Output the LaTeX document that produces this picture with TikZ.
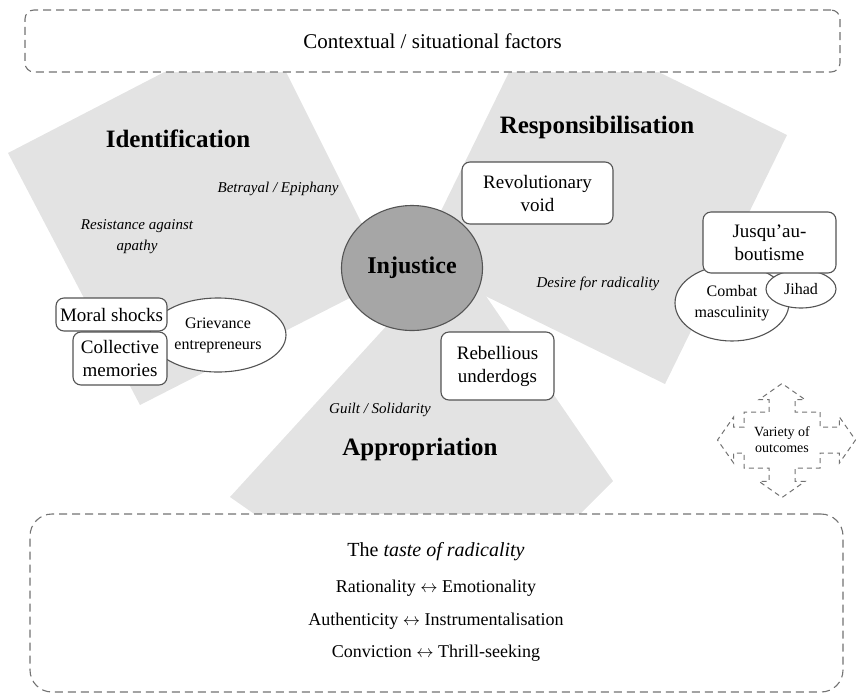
\documentclass[tikz,border=0pt]{standalone}
\usepackage{fontspec}
\setmainfont{Liberation Serif}
\usetikzlibrary{shapes.geometric,shapes.arrows}
\definecolor{sectorgray}{gray}{0.89}
\definecolor{coregray}{gray}{0.65}
\definecolor{linegray}{gray}{0.33}
\definecolor{dashgray}{gray}{0.45}
\tikzset{
	sector/.style={fill=sectorgray}, % grey squares behind the labels
	dashframe/.style={draw=dashgray, dash pattern=on 8pt off 5pt, line width=1.1pt, fill=white, rounded corners=#1},
	theme/.style={font=\fontsize{25}{30}\selectfont\bfseries},
	cue/.style={font=\fontsize{15}{21}\selectfont\itshape, align=center},
	pole/.style={font=\fontsize{18}{22}\selectfont},
	tagbox/.style={draw=linegray, line width=1.1pt, fill=white, rounded corners=8pt, align=center, inner sep=0pt, font=\fontsize{19}{23}\selectfont},
	tagoval/.style={ellipse, draw=linegray, line width=1.1pt, fill=white, align=center, inner sep=0pt, font=\fontsize{16}{21}\selectfont},
}

\begin{document}
\begin{tikzpicture}[x=1pt,y=-1pt]
	\useasboundingbox (0,0) rectangle (856,694);
	% Shade the three grey squares
	\fill[sector] (261,22) -- (8,153) -- (140,405) -- (389,278) -- cycle;
	\fill[sector] (538,13) -- (787,135) -- (665,384) -- (416,262) -- cycle;
	\fill[sector] (455,251) -- (613,481) -- (446,648) -- (230,497) -- cycle;
	
	% dashed frames top and bottom
	\node[dashframe=9pt, minimum width=815pt, minimum height=62pt, font=\fontsize{21}{25}\selectfont] (context) at (432.5,41) {Contextual / situational factors};
	\node[dashframe=22pt, minimum width=813pt, minimum height=178pt] (tastebox) at (436.5,603) {};
	\node[font=\fontsize{20}{24}\selectfont] (taste) at (436,552) {The \textit{taste of radicality}};
	\node[pole] (ratio) at (436,588) {Rationality $\leftrightarrow$ Emotionality};
	\node[pole] (authent) at (436,621) {Authenticity $\leftrightarrow$ Instrumentalisation};
	\node[pole] (convict) at (436,653) {Conviction $\leftrightarrow$ Thrill-seeking};
	
	% centre
	\node[ellipse, fill=coregray, draw=linegray, line width=1.1pt, minimum width=141pt, minimum height=125pt, inner sep=0pt, font=\fontsize{24}{28}\selectfont\bfseries] (injustice) at (412,268) {Injustice};
	
	% titles and cues
	\node[theme] (ident) at (178,139) {Identification};
	\node[theme] (respons) at (597,127) {Responsibilisation};
	\node[theme] (approp) at (420,449) {Appropriation};
	\node[cue] (betrayal) at (278,189) {Betrayal / Epiphany};
	\node[cue] (apathy) at (137,237) {Resistance against\\apathy};
	\node[cue] (guilt) at (380,410) {Guilt / Solidarity};
	\node[cue] (desire) at (598,284) {Desire for radicality};
	
	% left group
	\node[tagoval, minimum width=136pt, minimum height=74pt] (grievance) at (218,335) {Grievance\\entrepreneurs};
	\node[tagbox, minimum width=111pt, minimum height=33pt] (moral) at (111.5,314.5) {Moral shocks};
	\node[tagbox, minimum width=94pt, minimum height=53pt] (memories) at (120,358.5) {Collective\\memories};
	
	% boxes near the centre
	\node[tagbox, minimum width=151pt, minimum height=62pt] (void) at (537.5,193) {Revolutionary\\void};
	\node[tagbox, minimum width=113pt, minimum height=68pt] (underdogs) at (497.5,366) {Rebellious\\underdogs};
	
	% right group
	\node[tagoval, minimum width=114pt, minimum height=76pt] (combat) at (732,303) {Combat\\masculinity};
	\node[tagoval, minimum width=70pt, minimum height=38pt] (jihad) at (801,289) {Jihad};
	\node[tagbox, minimum width=133pt, minimum height=61pt] (jusqu) at (769.5,242.5) {Jusqu'au-\\boutisme};
	
	% four way arrow
	\node[arrow box, draw=dashgray, dash pattern=on 5pt off 4pt, line width=1pt,
		arrow box arrows={north:28pt, south:29pt, east:35pt, west:26pt},
		arrow box shaft width=26pt, arrow box head extend=10pt, arrow box tip angle=110,
		minimum width=76pt, minimum height=56pt, inner sep=0pt, align=center,
		font=\fontsize{14}{16}\selectfont] (outcomes) at (782,440) {Variety of\\outcomes};
\end{tikzpicture}
\end{document}
